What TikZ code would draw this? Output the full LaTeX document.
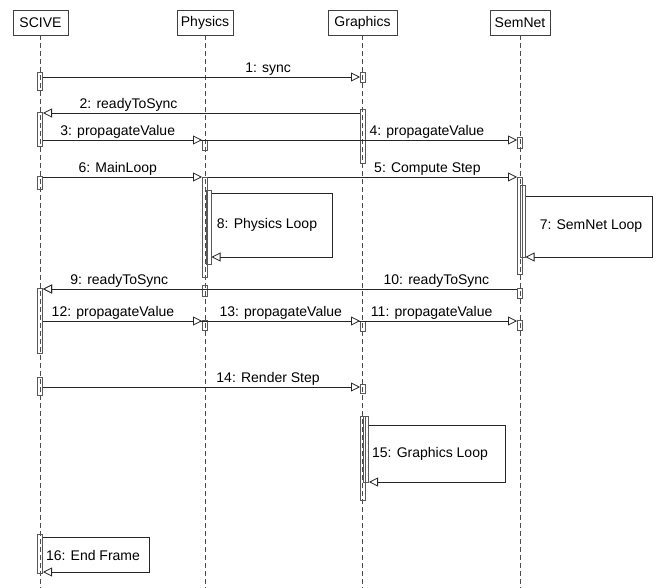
\documentclass[tikz,border=0pt]{standalone}
\usepackage{fontspec}
\setmainfont{Liberation Sans}
\usetikzlibrary{arrows.meta, positioning}

\begin{document}
\begin{tikzpicture}[
        x=1pt, y=-1pt,
        font=\fontsize{14pt}{16pt}\selectfont,
        object_box/.style={draw=black!75, line width=0.8pt, minimum height=25pt, inner xsep=2pt, inner ysep=0pt},
        life_line/.style={draw=black!70, line width=0.8pt, dash pattern=on 5pt off 3pt},
        activation_bar/.style={draw=black!65, line width=1pt, minimum width=5pt, inner sep=0pt, anchor=north},
        message_arrow/.style={-{Triangle[open, fill=white, length=9pt, width=9pt]}, line width=0.8pt, draw=black!85},
        message_label/.style={above, inner sep=1.5pt}
    ]
    \useasboundingbox (0,0) rectangle (656,588);
    \coordinate (bottom) at (0,588);

    \node[object_box, minimum width=55pt] (scive) at (40.5,22.5) {SCIVE};
    \node[object_box, minimum width=56pt] (physics) at (205,22.5) {Physics};
    \node[object_box, minimum width=69pt] (graphics) at (362.5,22.5) {Graphics};
    \node[object_box, minimum width=60pt] (semnet) at (520,22.5) {SemNet};

    \draw[life_line] (scive.south) -- (scive.south |- bottom);
    \draw[life_line] (physics.south) -- (physics.south |- bottom);
    \draw[life_line] (graphics.south) -- (graphics.south |- bottom);
    \draw[life_line] (semnet.south) -- (semnet.south |- bottom);

    % activation bars
    \node[activation_bar, minimum height=18pt] (s1) at (40,72) {};
    \node[activation_bar, minimum height=34pt] (s2) at (40,112) {};
    \node[activation_bar, minimum height=13pt] (s3) at (40,176) {};
    \node[activation_bar, minimum height=65pt] (s4) at (40,288) {};
    \node[activation_bar, minimum height=18pt] (s5) at (40,377) {};
    \node[activation_bar, minimum height=39pt] (s6) at (40,534) {};

    \node[activation_bar, minimum height=10pt] (p1) at (205,140) {};
    \node[activation_bar, minimum height=100pt] (p2) at (205,177) {};
    \node[activation_bar, minimum height=74pt] (p3) at (208.5,190) {};
    \node[activation_bar, minimum height=11pt] (p4) at (205,285) {};
    \node[activation_bar, minimum height=10pt] (p5) at (205,320) {};

    \node[activation_bar, minimum height=10pt] (g1) at (363,72) {};
    \node[activation_bar, minimum height=54pt] (g2) at (363,109) {};
    \node[activation_bar, minimum height=10pt] (g3) at (363,321) {};
    \node[activation_bar, minimum height=9pt] (g4) at (363,384) {};
    \node[activation_bar, minimum height=84pt] (g5) at (363,416) {};
    \node[activation_bar, minimum height=66pt] (g6) at (366,416) {};

    \node[activation_bar, minimum height=11pt] (n1) at (520,137) {};
    \node[activation_bar, minimum height=97pt] (n2) at (520,177) {};
    \node[activation_bar, minimum height=72pt] (n3) at (522.5,185) {};
    \node[activation_bar, minimum height=10pt] (n4) at (520,288) {};
    \node[activation_bar, minimum height=10pt] (n5) at (520,320) {};

    \coordinate (m1) at (0,77);
    \coordinate (m2) at (0,113);
    \coordinate (m3) at (0,140);
    \coordinate (m5) at (0,177);
    \coordinate (m9) at (0,289);
    \coordinate (m11) at (0,321);
    \coordinate (m14) at (0,387);
    \coordinate (c7) at (652,257);
    \coordinate (c8) at (332,257);
    \coordinate (c15) at (505,482);
    \coordinate (c16) at (149,572);

    % messages
    \draw[message_arrow] (s1.east |- m1) -- (g1.west |- m1) node[message_label, pos=0.71] {1: sync};
    \draw[message_arrow] (g2.west |- m2) -- (s2.east |- m2) node[message_label, pos=0.73] {2: readyToSync};
    \draw[message_arrow] (s2.east |- m3) -- (n1.west |- m3) node[message_label, pos=0.81] {4: propagateValue};
    \draw[message_arrow] (s2.east |- m3) -- (p1.west |- m3) node[message_label, pos=0.47] {3: propagateValue};
    \draw[message_arrow] (p2.east |- m5) -- (n2.west |- m5) node[message_label, pos=0.71] {5: Compute Step};
    \draw[message_arrow] (s3.east |- m5) -- (p2.west |- m5) node[message_label, pos=0.47] {6: MainLoop};
    \draw[message_arrow] ([yshift=-11pt]n3.north east) -| (c7) -- (n3.east |- c7);
    \node (t7) at (591,226) {7: SemNet Loop};
    \draw[message_arrow] ([yshift=-3pt]p3.north east) -| (c8) -- (p3.east |- c8);
    \node (t8) at (267,225) {8: Physics Loop};
    \draw[message_arrow] (n4.west |- m9) -- (s4.east |- m9) node[message_label, pos=0.17] {10: readyToSync};
    \draw[message_arrow] (p4.west |- m9) -- (s4.east |- m9) node[message_label, pos=0.52] {9: readyToSync};
    \draw[message_arrow] (s4.east |- m11) -- (n5.west |- m11) node[message_label, pos=0.82] {11: propagateValue};
    \draw[message_arrow] (s4.east |- m11) -- (g3.west |- m11) node[message_label, pos=0.75] {13: propagateValue};
    \draw[message_arrow] (s4.east |- m11) -- (p5.west |- m11) node[message_label, pos=0.44] {12: propagateValue};
    \draw[message_arrow] (s5.east |- m14) -- (g4.west |- m14) node[message_label, pos=0.71] {14: Render Step};
    \draw[message_arrow] ([yshift=-9pt]g6.north east) -| (c15) -- (g6.east |- c15);
    \node (t15) at (430,454) {15: Graphics Loop};
    \draw[message_arrow] ([yshift=-3pt]s6.north east) -| (c16) -- (s6.east |- c16);
    \node (t16) at (93,555) {16: End Frame};
\end{tikzpicture}
\end{document}
